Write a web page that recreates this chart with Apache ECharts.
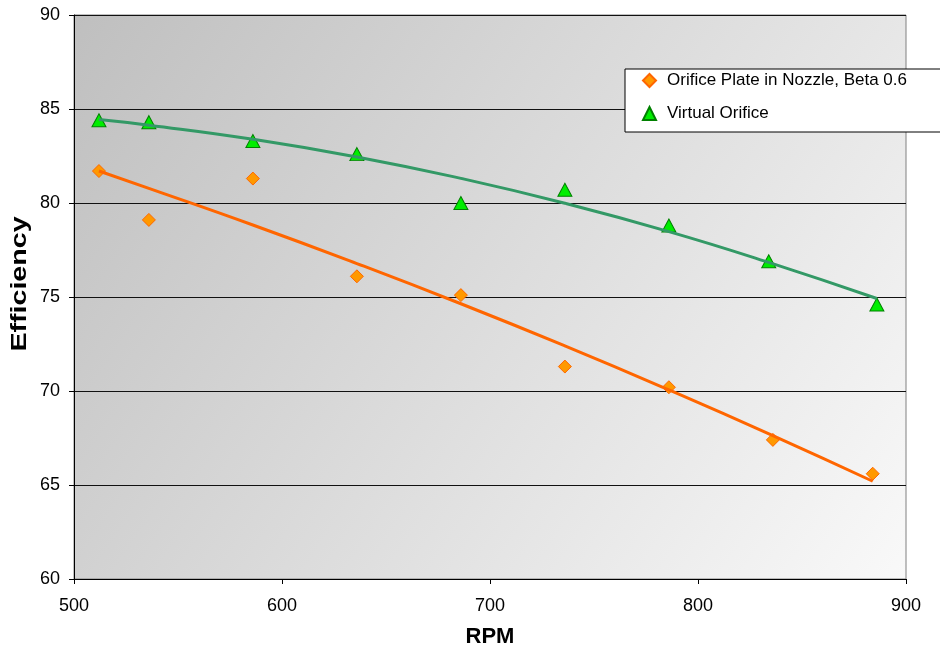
<!DOCTYPE html>
<html>
<head>
<meta charset="utf-8">
<script src="https://cdn.jsdelivr.net/npm/echarts@6/dist/echarts.min.js"></script>
<style>html,body{margin:0;padding:0;background:#fff}#c{width:940px;height:653px}</style>
</head>
<body>
<div id="c"></div>
<script>
var orificeRpm = [512, 536, 586, 636, 686, 736, 786, 836, 884];
var orificeEff = [81.7, 79.1, 81.3, 76.1, 75.1, 71.3, 70.2, 67.4, 65.6];
var orificeTrend = [81.7, 80.78, 78.83, 76.78, 74.64, 72.40, 70.06, 67.63, 65.2];

var virtualRpm = [512, 536, 586, 636, 686, 736, 786, 834, 886];
var virtualEff = [84.4, 84.3, 83.3, 82.6, 80.0, 80.7, 78.8, 76.9, 74.6];
var virtualTrend = [84.44, 84.14, 83.39, 82.45, 81.31, 79.99, 78.48, 76.84, 74.92];

var xTicks = [500, 600, 700, 800, 900];
var yTicks = [60, 65, 70, 75, 80, 85, 90];

function pairs(xs, ys) { return xs.map(function (x, i) { return [x, ys[i]]; }); }

var FONT = 'Liberation Sans, Arial, sans-serif';
var chart = echarts.init(document.getElementById('c'), null, { renderer: 'canvas' });
chart.setOption({
  animation: false,
  backgroundColor: '#ffffff',
  grid: {
    left: 74, right: 34, top: 15, bottom: 71,
    show: true,
    borderColor: '#808080', borderWidth: 1,
    backgroundColor: new echarts.graphic.LinearGradient(0, 0, 1, 1, [
      { offset: 0, color: '#bfbfbf' },
      { offset: 1, color: '#f9f9f9' }
    ])
  },
  legend: {
    orient: 'vertical',
    left: 625, top: 69,
    padding: [3, 40, 10, 17],
    itemGap: 16,
    itemWidth: 13, itemHeight: 13,
    backgroundColor: '#ffffff',
    borderColor: '#000000', borderWidth: 1,
    textStyle: { fontFamily: FONT, fontSize: 17, color: '#000', padding: [0, 0, 0, 6] },
    data: ['Orifice Plate in Nozzle, Beta 0.6', 'Virtual Orifice']
  },
  xAxis: {
    type: 'value',
    min: xTicks[0], max: xTicks[xTicks.length - 1], interval: 100,
    name: 'RPM', nameLocation: 'middle', nameGap: 47,
    nameTextStyle: { fontFamily: FONT, fontSize: 22, fontWeight: 'bold', color: '#000' },
    axisLine: { show: true, lineStyle: { color: '#000', width: 1 } },
    axisTick: { show: true, inside: false, length: 5, lineStyle: { color: '#000' } },
    axisLabel: { fontFamily: FONT, fontSize: 18, color: '#000', margin: 18 },
    splitLine: { show: false }
  },
  yAxis: {
    type: 'value',
    min: yTicks[0], max: yTicks[yTicks.length - 1], interval: 5,
    axisLine: { show: true, lineStyle: { color: '#000', width: 1 } },
    axisTick: { show: true, inside: false, length: 5, lineStyle: { color: '#000' } },
    axisLabel: { fontFamily: FONT, fontSize: 18, color: '#000', margin: 14 },
    splitLine: { show: true, lineStyle: { color: '#111', width: 1 } }
  },
  graphic: [{
    type: 'text',
    x: 20, y: 284,
    rotation: Math.PI / 2,
    scaleX: 1.3,
    z: 10,
    style: {
      text: 'Efficiency',
      font: 'bold 22px ' + FONT,
      fill: '#000',
      align: 'center',
      verticalAlign: 'middle'
    }
  }],
  series: [
    {
      name: 'Orifice Plate in Nozzle, Beta 0.6',
      type: 'scatter',
      symbol: 'diamond', symbolSize: 13,
      itemStyle: { color: '#ff9900', borderColor: '#ff6600', borderWidth: 1, opacity: 1 },
      data: pairs(orificeRpm, orificeEff),
      z: 3
    },
    {
      name: 'Virtual Orifice',
      type: 'scatter',
      symbol: 'triangle', symbolSize: [14, 13],
      itemStyle: { color: '#00ee00', borderColor: '#008000', borderWidth: 1, opacity: 1 },
      data: pairs(virtualRpm, virtualEff),
      z: 3
    },
    {
      name: 'orificeTrend',
      type: 'line', smooth: true, showSymbol: false, silent: true,
      lineStyle: { color: '#ff6600', width: 3 },
      data: pairs(orificeRpm, orificeTrend),
      z: 4
    },
    {
      name: 'virtualTrend',
      type: 'line', smooth: true, showSymbol: false, silent: true,
      lineStyle: { color: '#339966', width: 3 },
      data: pairs(virtualRpm, virtualTrend),
      z: 4
    }
  ]
});
</script>
</body>
</html>
